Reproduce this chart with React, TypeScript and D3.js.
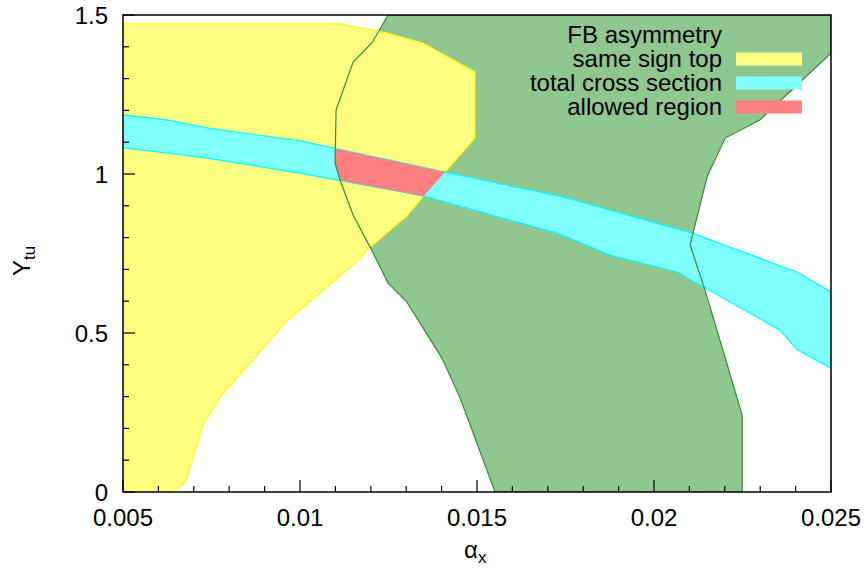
import * as d3 from "d3";

// alpha_x, Y_tu outlines
const sameSignTop: [number, number][] = [
  [0.005, 0], [0.005, 1.472], [0.01113, 1.472], [0.01246, 1.443], [0.01347, 1.412],
  [0.01494, 1.321], [0.01494, 1.113], [0.0141, 1.006], [0.01347, 0.928], [0.01302, 0.868],
  [0.01198, 0.77], [0.01155, 0.72], [0.00966, 0.541], [0.00774, 0.299], [0.00726, 0.211],
  [0.00675, 0.028], [0.00633, 0],
];

const fbAsymmetry: [number, number][] = [
  [0.01249, 1.5], [0.025, 1.5], [0.025, 1.38], [0.02299, 1.17], [0.02201, 1.113],
  [0.0215, 0.991], [0.02102, 0.777], [0.02144, 0.635], [0.02192, 0.456], [0.02249, 0.242],
  [0.02249, 0], [0.01551, 0], [0.01452, 0.296], [0.01401, 0.421], [0.01302, 0.597],
  [0.01249, 0.657], [0.01198, 0.77], [0.0115, 0.871], [0.01113, 0.981], [0.01099, 1.035],
  [0.01102, 1.201], [0.0115, 1.352], [0.01203, 1.412],
];

const crossUpper: [number, number][] = [
  [0.005, 1.186], [0.00624, 1.17], [0.00737, 1.145], [0.01, 1.104], [0.0141, 1.006],
  [0.01743, 0.928], [0.02107, 0.814], [0.02404, 0.692], [0.025, 0.629],
];

const crossLower: [number, number][] = [
  [0.005, 1.082], [0.00624, 1.066], [0.00737, 1.05], [0.01, 1.003], [0.01347, 0.931],
  [0.01726, 0.814], [0.01876, 0.745], [0.02065, 0.692], [0.02356, 0.509], [0.02404, 0.447],
  [0.025, 0.39],
];

const xTicks = [0.005, 0.01, 0.015, 0.02, 0.025];
const xTickLabels = ["0.005", "0.01", "0.015", "0.02", "0.025"];
const yTicks = [0, 0.5, 1, 1.5];
const yTickLabels = ["0", "0.5", "1", "1.5"];
const legendLabels = ["FB asymmetry", "same sign top", "total cross section", "allowed region"];
const legendFills = ["#90c690", "#ffff80", "#80ffff", "#ff8080"];

const W = 868;
const H = 571;
const FONT = "'Liberation Sans', Arial, sans-serif";

export default function App() {
  const x = d3.scaleLinear().domain([0.005, 0.025]).range([123, 831]);
  const y = d3.scaleLinear().domain([0, 1.5]).range([492, 15]);
  const line = d3
    .line<[number, number]>()
    .x((d) => x(d[0]))
    .y((d) => y(d[1]));
  const closed = (pts: [number, number][]) => (line(pts) || "") + "Z";

  const yellowD = closed(sameSignTop);
  const greenD = closed(fbAsymmetry);
  const cyanD = closed([...crossUpper, ...crossLower.slice().reverse()]);

  const [x0, x1] = x.range();
  const [y0, y1] = y.range();
  const xMinor = d3.range(0.005, 0.02501, 0.001);
  const yMinor = d3.range(0, 1.5001, 0.1);

  return (
    <svg
      width={W}
      height={H}
      style={{ position: "absolute", left: 0, top: 0, background: "#fff" }}
      fontFamily={FONT}
    >
      <defs>
        <clipPath id="plot">
          <rect x={x0} y={y1} width={x1 - x0} height={y0 - y1} />
        </clipPath>
        <clipPath id="clipYellow">
          <path d={yellowD} />
        </clipPath>
        <clipPath id="clipGreen">
          <path d={greenD} />
        </clipPath>
      </defs>

      <g clipPath="url(#plot)">
        <path d={greenD} fill="#90c690" stroke="none" />
        <path d={yellowD} fill="#ffff80" stroke="#ffff00" strokeWidth={1.2} />
        <path d={cyanD} fill="#80ffff" stroke="#00ffff" strokeWidth={1.2} />
        <g clipPath="url(#clipYellow)">
          <g clipPath="url(#clipGreen)">
            <path d={cyanD} fill="#ff8080" stroke="none" />
          </g>
        </g>
        <path d={greenD} fill="none" stroke="#2f8f2f" strokeWidth={1.2} />
      </g>

      {/* legend */}
      {legendLabels.map((lab, i) => (
        <g key={lab}>
          <text x={722} y={43 + i * 24} textAnchor="end" fontSize={24} fill="#000">
            {lab}
          </text>
          <rect x={736} y={28 + i * 24 + (i > 0 ? 0.5 : 0)} width={66} height={13} fill={legendFills[i]} />
        </g>
      ))}

      {/* ticks */}
      {xMinor.map((v, i) => {
        const major = xTicks.some((t) => Math.abs(t - v) < 1e-9);
        return (
          <line key={"xm" + i} x1={x(v)} x2={x(v)} y1={y0} y2={y0 - (major ? 12 : 6)} stroke="#000" strokeWidth={1.2} />
        );
      })}
      {yMinor.map((v, i) => {
        const major = yTicks.some((t) => Math.abs(t - v) < 1e-9);
        return (
          <line key={"ym" + i} x1={x0} x2={x0 + (major ? 12 : 6)} y1={y(v)} y2={y(v)} stroke="#000" strokeWidth={1.2} />
        );
      })}

      <rect x={x0} y={y1} width={x1 - x0} height={y0 - y1} fill="none" stroke="#000" strokeWidth={1.5} />

      {xTicks.map((t, i) => (
        <text key={"xt" + i} x={x(t)} y={526} textAnchor="middle" fontSize={24} fill="#000">
          {xTickLabels[i]}
        </text>
      ))}
      {yTicks.map((t, i) => (
        <text key={"yt" + i} x={108} y={y(t) + 8.5} textAnchor="end" fontSize={24} fill="#000">
          {yTickLabels[i]}
        </text>
      ))}

      {/* axis titles */}
      <text x={464} y={558} fontSize={24} fill="#000">
        α<tspan fontSize={17} dy={5}>x</tspan>
      </text>
      <text transform="translate(30,276) rotate(-90)" fontSize={24} fill="#000">
        Y<tspan fontSize={17} dy={5}>tu</tspan>
      </text>
    </svg>
  );
}
